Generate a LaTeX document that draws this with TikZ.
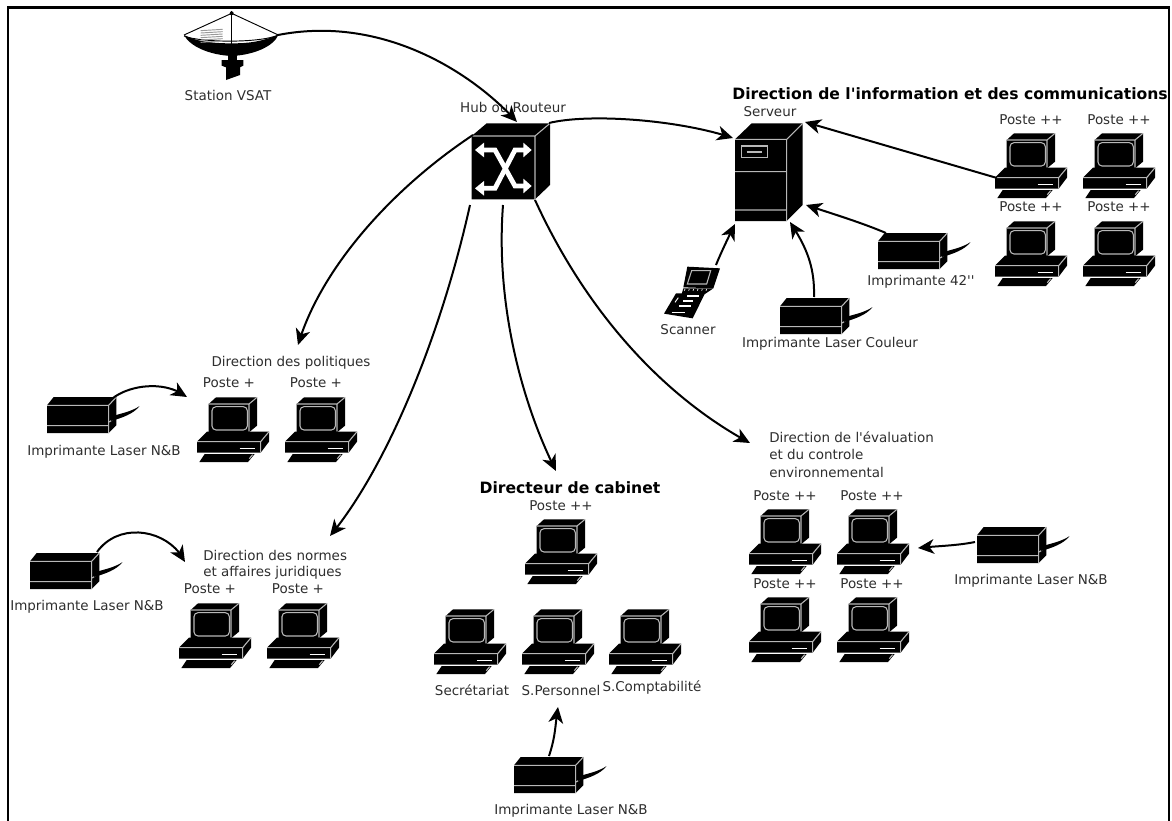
\documentclass[tikz,border=0pt]{standalone}
\usepackage{fontspec}
\newfontfamily\labelfont{DejaVu Sans}
\usetikzlibrary{arrows.meta,bending}
\tikzset{
 lbl/.style={font=\labelfont\fontsize{10.1}{12}\selectfont,text=black!82,inner sep=0pt},
 boldlbl/.style={font=\labelfont\bfseries\fontsize{11.7}{14}\selectfont,inner sep=0pt},
 link/.style={line width=1.5pt,-{Stealth[length=12pt,width=11pt,inset=3.5pt]}},
 wl/.style={draw=white!72!black,line width=.8pt},
 anch/.style={inner sep=0pt,minimum width=#1},
 pics/computer/.style={code={
  \begin{scope}[x=.25pt,y=-.25pt]
   \fill (50,30)--(72,10)--(195,10)--(195,95)--(171,115)--(50,115)--cycle;
   \draw[wl,rounded corners=3pt] (60,38) rectangle (166,108);
   \draw[wl] (50,30)--(171,30)--(195,10) (171,30)--(171,113);
   \fill (15,143)--(45,113)--(231,113)--(231,143)--(206,176)--(15,176)--cycle;
   \draw[wl] (15,143)--(206,143)--(231,113) (206,143)--(206,176);
   \draw[white,line width=.7pt] (143,162)--(188,162);
   \fill (38,180)--(188,180)--(168,204)--(22,204)--cycle;
   \draw[wl] (172,194)--(182,182);
  \end{scope}}},
 pics/printer/.style={code={
  \begin{scope}[x=.25pt,y=-.25pt]
   \fill (0,25)--(20,0)--(208,0)--(208,85)--(185,108)--(0,108)--cycle;
   \draw[wl] (0,25)--(185,25)--(208,0) (185,25)--(185,108) (0,86)--(185,86) (187,75)--(208,60);
   \fill (190,60) .. controls (215,50) and (250,46) .. (278,27) .. controls (258,52) and (225,62) .. (193,72)--cycle;
  \end{scope}}},
}
\begin{document}
\begin{tikzpicture}[x=.75pt,y=-.75pt]
\useasboundingbox (0,0) rectangle (1172,821);
\fill[white] (0,0) rectangle (1172,821);
\draw[line width=1.6pt] (8,823)--(8,7.5)--(1169,7.5)--(1169,823);

% dish
\node[anch=72pt] (dish) at (230,35) {};
\begin{scope}[shift={(160,0)},x=.25pt,y=-.25pt]
 \fill (72,105) .. controls (90,140) and (150,165) .. (215,168) .. controls (280,165) and (340,140) .. (355,105) .. controls (300,125) and (270,130) .. (215,130) .. controls (160,130) and (110,125) .. (72,105)--cycle;
 \draw[line width=.7pt] (72,105)--(215,40)--(355,105);
 \draw[line width=.7pt] (72,108) .. controls (120,128) and (300,130) .. (355,105);
 \draw[line width=1.2pt] (215,32)--(215,135);
 \fill (215,40) circle (1.5pt);
 \foreach \yy in {92,99,106,113,120,127} \draw[black!40,line width=.7pt] (122,\yy)--(188,\yy-4);
 \fill (185,180)--(250,180)--(250,197)--(240,202)--(240,225)--(198,240)--(198,202)--(185,197)--cycle;
 \fill (205,160) rectangle (232,182);
\end{scope}
\node[lbl] (tdish) at (228,95) {Station VSAT};

% hub
\node[anch=60pt,minimum height=60pt] (hub) at (510,170) {};
\begin{scope}[shift={(460,110)},x=.25pt,y=-.25pt]
 \fill (35,78)--(80,40)--(270,40)--(270,225)--(225,268)--(35,268)--cycle;
 \draw[wl] (35,78)--(225,78)--(270,40) (225,78)--(225,268);
 \draw[white,line width=3.6pt,line join=miter] (62,120)--(105,120)--(165,228)--(195,228);
 \draw[white,line width=3.6pt,line join=miter] (62,235)--(105,235)--(165,120)--(195,120);
 \fill[white] (45,120)--(72,98)--(72,142)--cycle (45,235)--(72,213)--(72,257)--cycle
  (215,120)--(190,98)--(190,142)--cycle (215,228)--(190,206)--(190,250)--cycle;
\end{scope}
\node[lbl] (thub) at (513,107) {Hub ou Routeur};

% server
\node[anch=52pt,minimum height=72pt] (server) at (770,173) {};
\begin{scope}[shift={(720,120)},x=.25pt,y=-.25pt]
 \fill (45,58)--(95,10)--(248,10)--(248,255)--(200,303)--(45,303)--cycle;
 \draw[wl] (45,58)--(200,58)--(248,10) (200,58)--(200,303) (45,155)--(200,155) (45,270)--(200,270);
 \draw[wl] (65,78) rectangle (142,113);
 \draw[wl] (80,96)--(125,96);
\end{scope}
\node[lbl] (tserver) at (770,112) {Serveur};
\node[boldlbl,anchor=east] (tdsi) at (1168,94) {Direction de l'information et des communications};

% DSI posts
\pic at (990,130) {computer};
\pic at (1078,130) {computer};
\pic at (990,218) {computer};
\pic at (1078,218) {computer};
\node[lbl] (t1) at (1031,120) {Poste ++};
\node[lbl] (t2) at (1119,120) {Poste ++};
\node[lbl] (t3) at (1031,207) {Poste ++};
\node[lbl] (t4) at (1119,207) {Poste ++};

% printers near server
\pic at (878,233) {printer};
\node[lbl] (t5) at (921,282) {Imprimante 42''};
\pic at (780,298) {printer};
\node[lbl] (t6) at (830,344) {Imprimante Laser Couleur};

% scanner
\node[anch=40pt,minimum height=50pt] (scan) at (692,292) {};
\begin{scope}[shift={(650,225)},x=.25pt,y=-.25pt]
 \fill (112,125)--(210,130)--(190,190)--(100,187)--cycle;
 \draw[wl] (125,137)--(182,137)--(170,177)--(112,177)--cycle;
 \fill (100,190)--(190,190)--(165,207)--(95,207)--cycle;
 \foreach \xx in {105,118,131,144,157,170} \draw[white,line width=.5pt] (\xx,192)--(\xx-2,197);
 \fill (78,205)--(165,205)--(128,280)--(42,266)--cycle;
 \draw[white,line width=1pt] (112,213)--(148,213) (100,228)--(130,228) (88,243)--(122,243) (65,262)--(105,262);
 \draw[white,line width=.7pt] (85,218)--(75,232);
\end{scope}
\node[lbl] (t7) at (688,330) {Scanner};

% politics
\node[lbl] (t8) at (291,363) {Direction des politiques};
\node[lbl] (t9) at (229,383) {Poste +};
\node[lbl] (t10) at (316,383) {Poste +};
\pic at (192,394) {computer};
\pic at (280,394) {computer};
\pic at (47,397) {printer};
\node[lbl] (t11) at (104,452) {Imprimante Laser N\&B};

% normes
\node[lbl,anchor=west] (t12) at (203,555) {Direction des normes};
\node[lbl,anchor=west] (t13) at (203,573) {et affaires juridiques};
\node[lbl] (t14) at (210,589) {Poste +};
\node[lbl] (t15) at (298,589) {Poste +};
\pic at (174,600) {computer};
\pic at (262,600) {computer};
\pic at (30,553) {printer};
\node[lbl] (t16) at (87,607) {Imprimante Laser N\&B};

% directeur
\node[boldlbl] (t17) at (570,488) {Directeur de cabinet};
\node[lbl] (t18) at (561,506) {Poste ++};
\pic at (520,516) {computer};
\pic at (429,606) {computer};
\pic at (517,606) {computer};
\pic at (604,606) {computer};
\node[lbl] (t19) at (472,690) {Secrétariat};
\node[lbl] (t20) at (561,690) {S.Personnel};
\node[lbl] (t21) at (652,688) {S.Comptabilité};
\pic at (514,757) {printer};
\node[lbl] (t22) at (571,811) {Imprimante Laser N\&B};

% evaluation
\node[lbl,anchor=west] (t23) at (769,437) {Direction de l'évaluation};
\node[lbl,anchor=west] (t24) at (769,454) {et du controle};
\node[lbl,anchor=west] (t25) at (769,472) {environnemental};
\node[lbl] (t26) at (785,496) {Poste ++};
\node[lbl] (t27) at (872,496) {Poste ++};
\node[lbl] (t28) at (785,584) {Poste ++};
\node[lbl] (t29) at (872,584) {Poste ++};
\pic at (744,506) {computer};
\pic at (832,506) {computer};
\pic at (744,594) {computer};
\pic at (832,594) {computer};
\pic at (977,527) {printer};
\node[lbl] (t30) at (1031,581) {Imprimante Laser N\&B};

% connector ends
\coordinate (eHub) at (517,122);
\coordinate (eSrvA) at (733,138);
\coordinate (ePol) at (298,345);
\coordinate (eNor) at (330,536);
\coordinate (eDir) at (556,471);
\coordinate (eEva) at (750,443);
\coordinate (eSrvB) at (805,122);
\coordinate (eSrvC) at (806,205);
\coordinate (eSrvD) at (790,222);
\coordinate (eSrvE) at (735,224);
\coordinate (ePolP) at (187,397);
\coordinate (eNorP) at (185,562);
\coordinate (eEvaP) at (918,548);
\coordinate (eCab) at (558,707);
\coordinate (sDish) at (278,35);
\coordinate (sH1) at (549,123);
\coordinate (sH2) at (473,135);
\coordinate (sH3) at (470,205);
\coordinate (sH4) at (503,205);
\coordinate (sH5) at (535,200);
\coordinate (sP) at (997,178);
\coordinate (s42) at (886,233);
\coordinate (sCol) at (814,297);
\coordinate (sScan) at (716,265);
\coordinate (sPrP) at (113,398);
\coordinate (sPrN) at (97,552);
\coordinate (sPrE) at (975,542);
\coordinate (sPrC) at (549,756);

\draw[link] (sDish) .. controls (380,15) and (470,70) .. (eHub);
\draw[link] (sH1) .. controls (590,113) and (680,120) .. (eSrvA);
\draw[link] (sH2) .. controls (390,190) and (320,270) .. (ePol);
\draw[link] (sH3) .. controls (440,340) and (385,470) .. (eNor);
\draw[link] (sH4) .. controls (495,310) and (525,410) .. (eDir);
\draw[link] (sH5) .. controls (590,320) and (670,400) .. (eEva);
\draw[link] (sP) -- (eSrvB);
\draw[link] (s42) .. controls (860,222) and (830,213) .. (eSrvC);
\draw[link] (sCol) .. controls (815,265) and (805,245) .. (eSrvD);
\draw[link] (sScan) .. controls (720,255) and (727,240) .. (eSrvE);
\draw[link] (sPrP) .. controls (130,385) and (165,380) .. (ePolP);
\draw[link] (sPrN) .. controls (120,520) and (170,530) .. (eNorP);
\draw[link] (sPrE) .. controls (955,546) and (935,546) .. (eEvaP);
\draw[link] (sPrC) .. controls (556,735) and (555,725) .. (eCab);
\end{tikzpicture}
\end{document}
